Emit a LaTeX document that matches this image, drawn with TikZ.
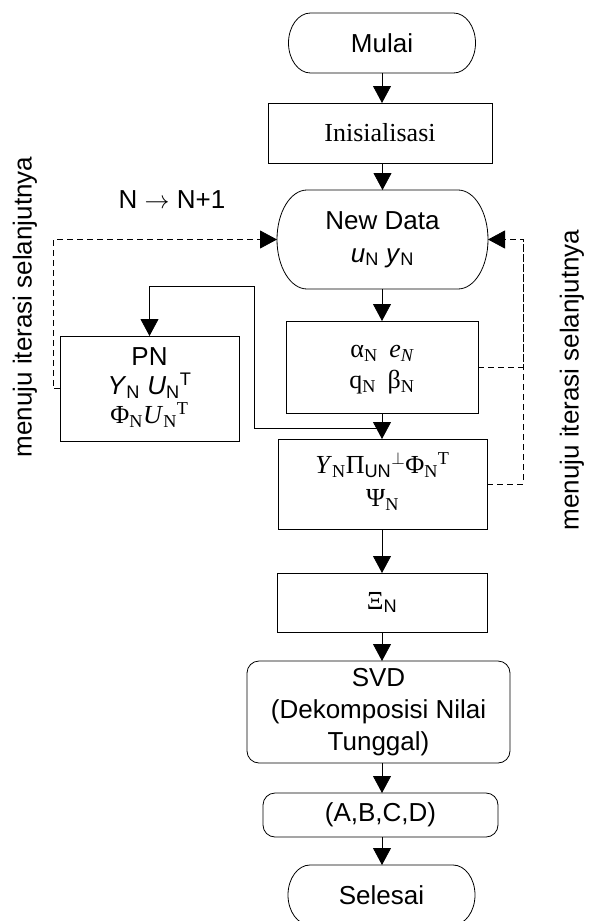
\documentclass[tikz,border=0pt]{standalone}
\usepackage{fontspec}
\setmainfont{Liberation Serif}
\newfontfamily\arial{Liberation Sans}
\usetikzlibrary{arrows.meta}
\newcommand\fsz{\fontsize{26}{30}\selectfont}
\newcommand\terminal[3]{\draw[line] ([xshift=#2]#1.north west) -- ([xshift=-#2]#1.north east) arc[start angle=90,end angle=-90,x radius=#2,y radius=#3] -- ([xshift=#2]#1.south west) arc[start angle=270,end angle=90,x radius=#2,y radius=#3] -- cycle;}
\tikzset{
  line/.style={line width=0.8pt},
  arr/.style={line, -{Triangle[width=18pt,length=17pt]}},
  darr/.style={arr, dash pattern=on 6pt off 4pt},
  dline/.style={line, dash pattern=on 6pt off 4pt},
  box/.style={draw, line width=0.8pt, inner sep=0pt, outer sep=0pt, align=center, font=\fsz},
  rbox/.style={box, rounded corners=12pt},
  term/.style={inner sep=0pt, outer sep=0pt, align=center, font=\fsz},
  lbl/.style={inner sep=0pt, font=\fsz\arial},
}
\begin{document}
\begin{tikzpicture}[x=1pt,y=1pt]
\useasboundingbox (0,0) rectangle (590,-921);

% nodes
\node[term, minimum width=187pt, minimum height=60pt] (mulai) at (382,-43) {\arial Mulai};
\terminal{mulai}{22pt}{30pt}
\node[box, minimum width=224pt, minimum height=60pt] (init) at (380,-133) {Inisialisasi};
\node[term, minimum width=211pt, minimum height=99pt] (nd) at (382.5,-239.5)
  {\arial\begin{tabular}{@{}c@{}}New Data\\[3pt] \textit{u}\textsubscript{N} \textit{y}\textsubscript{N}\end{tabular}};
\terminal{nd}{30pt}{49.5pt}
\node[box, minimum width=192pt, minimum height=92pt] (alpha) at (382,-367)
  {\begin{tabular}{@{}c@{}}α\textsubscript{N}\hspace{0.45em}\textit{e\textsubscript{N}}\\[1pt] q\textsubscript{N}\hspace{0.45em}β\textsubscript{N}\end{tabular}};
\node[box, minimum width=209pt, minimum height=90pt] (Y) at (382.5,-484)
  {\begin{tabular}{@{}c@{}}\textit{Y}\textsubscript{N}Π\textsubscript{\arial UN}\textsuperscript{$\perp$}Φ\textsubscript{N}\textsuperscript{T}\\[3pt] Ψ\textsubscript{N}\end{tabular}};
\node[box, minimum width=179pt, minimum height=105pt] (PN) at (149.5,-388.5)
  {\begin{tabular}{@{}c@{}}{\arial PN}\\[-1pt] {\arial\textit{Y}\textsubscript{N} \textit{U}\textsubscript{N}\textsuperscript{T}}\\[-1pt] Φ\textsubscript{N}\textit{U}\textsubscript{N}\textsuperscript{T}\end{tabular}};
\node[box, minimum width=210pt, minimum height=59pt] (Xi) at (382,-602.5) {Ξ\textsubscript{\arial N}};
\node[rbox, minimum width=263pt, minimum height=102pt] (svd) at (378.5,-712)
  {\arial\begin{tabular}{@{}c@{}}SVD\\[2pt](Dekomposisi Nilai\\[2pt]Tunggal)\end{tabular}};
\node[rbox, minimum width=235pt, minimum height=44pt] (abcd) at (380.5,-815) {\arial (A,B,C,D)};
\node[term, minimum width=187pt, minimum height=60pt] (sel) at (381.5,-895) {\arial Selesai};
\terminal{sel}{22pt}{30pt}

\node[lbl] (nn) at (172,-200) {N $\rightarrow$ N+1};
\node[lbl, rotate=90] (lt) at (25,-307) {menuju iterasi selanjutnya};
\node[lbl, rotate=90] (rt) at (572,-380) {menuju iterasi selanjutnya};

% connectors
\draw[arr] (mulai.south) -- (mulai.south |- init.north);
\draw[arr] (init.south -| nd.north) -- (nd.north);
\draw[arr] (nd.south -| alpha.south) -- (alpha.north);
\draw[arr] (alpha.south) -- (alpha.south |- Y.north);
\coordinate (j) at ([yshift=-15pt]alpha.south);
\coordinate (c1) at (254,-286);
\draw[arr] (j) -| (c1) -| (PN.north);
\draw[arr] (Y.south -| alpha.south) -- (alpha.south |- Xi.north);
\draw[arr] (Xi.south) -- (Xi.south |- svd.north);
\draw[arr] (Xi.south |- svd.south) -- (Xi.south |- abcd.north);
\draw[arr] (Xi.south |- abcd.south) -- (Xi.south |- sel.north);

% dashed feedback
\draw[darr] (PN.west) -- ++(-7pt,0) |- (nd.west);
\coordinate (rc) at ([xshift=35pt]nd.east);
\draw[darr] (alpha.east) -| (rc) -- (nd.east);
\draw[dline] (Y.east) -| (rc);
\end{tikzpicture}
\end{document}
